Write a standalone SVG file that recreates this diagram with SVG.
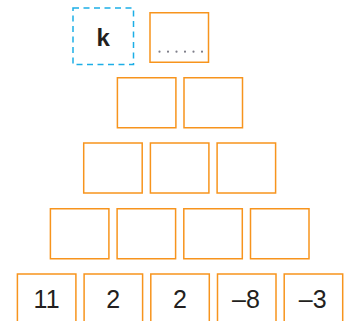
<svg xmlns="http://www.w3.org/2000/svg" width="345" height="321" viewBox="0 0 345 321">
<style>
.b{fill:#fff;stroke:#F7941D;stroke-width:1.5}
.t{font-family:"Liberation Sans",Arial,sans-serif;font-size:25px;fill:#231F20;text-anchor:middle}
</style>
<rect width="345" height="321" fill="#fff"/>
<g id="k-box">
<rect x="73" y="8" width="60.5" height="56.5" fill="#fff" stroke="#1CAEE6" stroke-width="1.5" stroke-dasharray="6,4.5"/>
<text x="103.3" y="45.5" font-family="Liberation Sans,Arial,sans-serif" font-size="24" font-weight="bold" fill="#231F20" text-anchor="middle">k</text>
</g>
<g id="top">
<rect class="b" x="150" y="12.75" width="58.5" height="49.5"/>
<line x1="159.5" y1="51.7" x2="203" y2="51.7" stroke="#7F7F8A" stroke-width="2.2" stroke-linecap="round" stroke-dasharray="0,8.5"/>
</g>
<g id="r2a"><rect class="b" x="117.4" y="77.75" width="58.5" height="50"/></g>
<g id="r2b"><rect class="b" x="184" y="77.75" width="58.5" height="50"/></g>
<g id="r3a"><rect class="b" x="83.7" y="143" width="58.5" height="50"/></g>
<g id="r3b"><rect class="b" x="150.4" y="143" width="58.5" height="50"/></g>
<g id="r3c"><rect class="b" x="217.1" y="143" width="58.5" height="50"/></g>
<g id="r4a"><rect class="b" x="50.4" y="208.75" width="58.5" height="50"/></g>
<g id="r4b"><rect class="b" x="117.1" y="208.75" width="58.5" height="50"/></g>
<g id="r4c"><rect class="b" x="183.8" y="208.75" width="58.5" height="50"/></g>
<g id="r4d"><rect class="b" x="250.5" y="208.75" width="58.5" height="50"/></g>
<g id="r5a"><rect class="b" x="17.4" y="274" width="58.5" height="50"/><text class="t" x="46.6" y="308">11</text></g>
<g id="r5b"><rect class="b" x="84.1" y="274" width="58.5" height="50"/><text class="t" x="113.3" y="308">2</text></g>
<g id="r5c"><rect class="b" x="150.8" y="274" width="58.5" height="50"/><text class="t" x="180" y="308">2</text></g>
<g id="r5d"><rect class="b" x="217.5" y="274" width="58.5" height="50"/><text class="t" x="246" y="308">–8</text></g>
<g id="r5e"><rect class="b" x="284.2" y="274" width="58.5" height="50"/><text class="t" x="312.7" y="308">–3</text></g>
</svg>
